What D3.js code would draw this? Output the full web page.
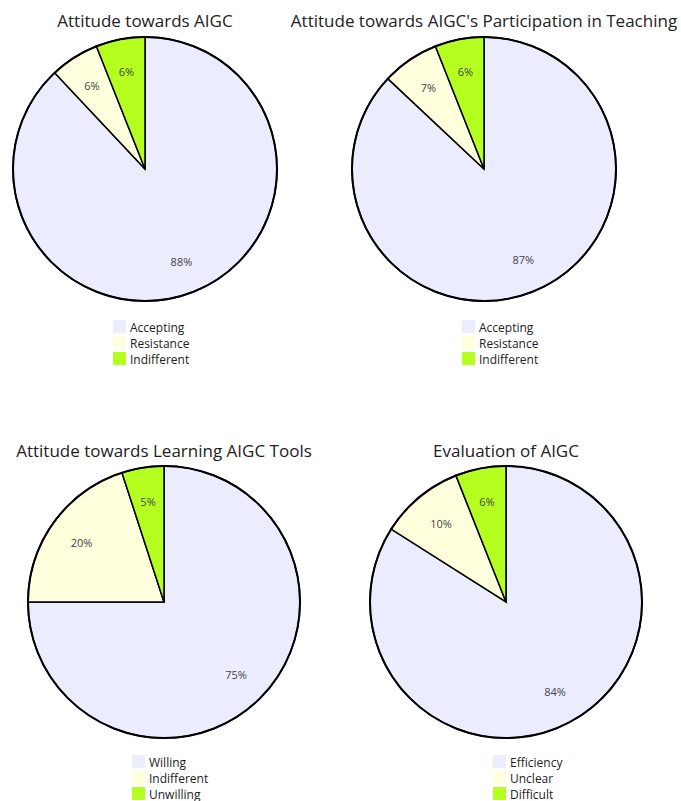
<!DOCTYPE html>
<html>
<head>
<meta charset="utf-8">
<script src="https://cdn.jsdelivr.net/npm/d3@7"></script>
<style>
  html, body { margin: 0; padding: 0; background: #fff; }
  svg { display: block; }
  text { font-family: "Open Sans", "Noto Sans", "DejaVu Sans", sans-serif; }
</style>
</head>
<body>
<svg id="chart" width="681" height="801"></svg>
<script>
// ---- data ----
const titles = [
  "Attitude towards AIGC",
  "Attitude towards AIGC's Participation in Teaching",
  "Attitude towards Learning AIGC Tools",
  "Evaluation of AIGC"
];
const categories1 = ["Accepting", "Resistance", "Indifferent"];
const values1 = [88, 6, 6];
const categories2 = ["Accepting", "Resistance", "Indifferent"];
const values2 = [87, 7, 6];
const categories3 = ["Willing", "Indifferent", "Unwilling"];
const values3 = [75, 20, 5];
const categories4 = ["Efficiency", "Unclear", "Difficult"];
const values4 = [84, 10, 6];
const sliceColors = ["#ECECFF", "#FFFFDE", "#B5FF20"];

// ---- layout ----
const layout = [
  { cx: 145, cy: 169, r: 132, titleY: 27,  legendX: 113, legendY: 320 },
  { cx: 484, cy: 169, r: 132, titleY: 27,  legendX: 462, legendY: 320 },
  { cx: 164, cy: 602, r: 136, titleY: 457, legendX: 132, legendY: 755 },
  { cx: 506, cy: 602, r: 136, titleY: 457, legendX: 493, legendY: 755 }
];
const datasets = [
  { title: titles[0], cats: categories1, vals: values1 },
  { title: titles[1], cats: categories2, vals: values2 },
  { title: titles[2], cats: categories3, vals: values3 },
  { title: titles[3], cats: categories4, vals: values4 }
];

const svg = d3.select("#chart");
const pie = d3.pie().sort(null).value(d => d.value);

datasets.forEach((ds, i) => {
  const L = layout[i];
  const rows = ds.cats.map((c, j) => ({ label: c, value: ds.vals[j] }));
  const color = d3.scaleOrdinal().domain(ds.cats).range(sliceColors);
  const g = svg.append("g");

  g.append("text")
    .attr("x", L.cx).attr("y", L.titleY)
    .attr("text-anchor", "middle")
    .attr("font-size", 17)
    .attr("fill", "#222")
    .text(ds.title);

  const pg = g.append("g").attr("transform", `translate(${L.cx},${L.cy})`);
  const arc = d3.arc().innerRadius(0).outerRadius(L.r);
  const labelArc = d3.arc().innerRadius(L.r * 0.75).outerRadius(L.r * 0.75);
  const arcs = pie(rows);

  pg.selectAll("path.slice").data(arcs).join("path")
    .attr("class", "slice")
    .attr("d", arc)
    .attr("fill", d => color(d.data.label))
    .attr("stroke", "#000")
    .attr("stroke-width", 1.5);

  pg.append("circle")
    .attr("r", L.r)
    .attr("fill", "none")
    .attr("stroke", "#000")
    .attr("stroke-width", 2);

  pg.selectAll("text.pct").data(arcs).join("text")
    .attr("class", "pct")
    .attr("transform", d => `translate(${labelArc.centroid(d)})`)
    .attr("text-anchor", "middle")
    .attr("dominant-baseline", "central")
    .attr("font-size", 11)
    .attr("fill", "#444")
    .text(d => d.data.value + "%");

  const lg = g.append("g").attr("transform", `translate(${L.legendX},${L.legendY})`);
  const item = lg.selectAll("g.item").data(rows).join("g")
    .attr("class", "item")
    .attr("transform", (d, j) => `translate(0,${j * 16})`);
  item.append("rect")
    .attr("width", 13).attr("height", 13)
    .attr("fill", d => color(d.label));
  item.append("text")
    .attr("x", 17).attr("y", 7)
    .attr("dominant-baseline", "central")
    .attr("font-size", 12)
    .attr("fill", "#222")
    .text(d => d.label);
});
</script>
</body>
</html>
